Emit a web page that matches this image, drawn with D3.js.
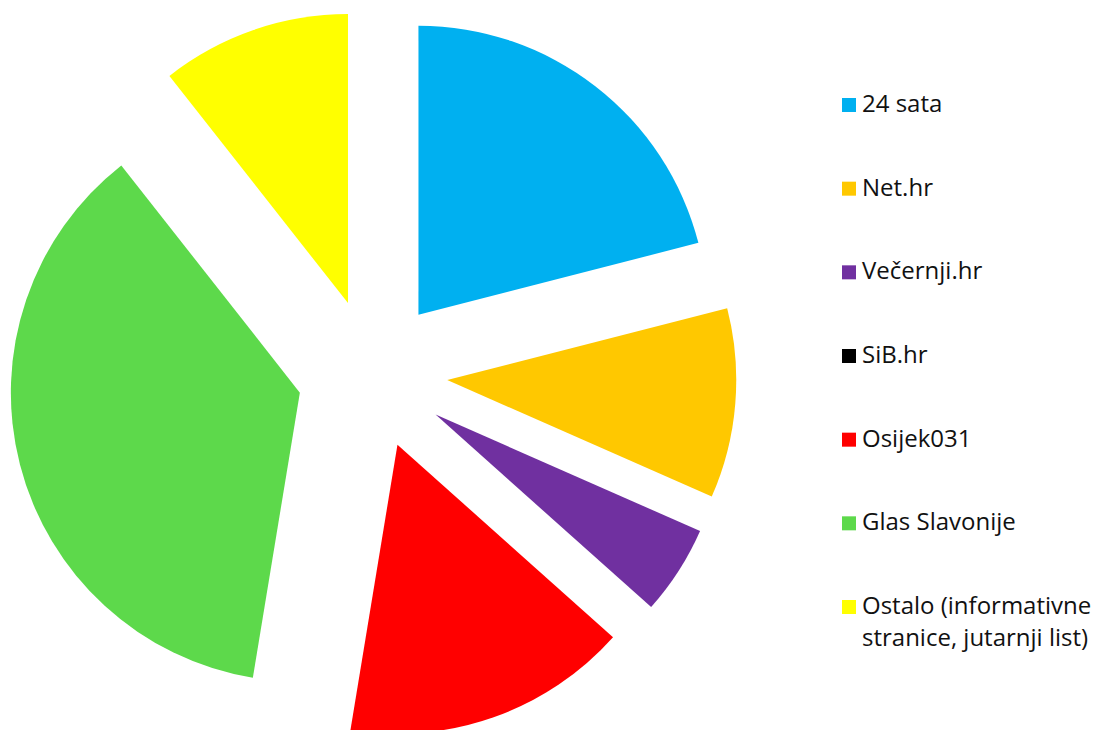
<!DOCTYPE html>
<html>
<head>
<meta charset="utf-8">
<script src="https://cdn.jsdelivr.net/npm/d3@7"></script>
<style>
  html, body { margin: 0; padding: 0; background: #fff; }
  svg { display: block; }
</style>
</head>
<body>
<svg id="chart" width="1095" height="730"></svg>
<script>
const categories = ["24 sata", "Net.hr", "Večernji.hr", "SiB.hr", "Osijek031", "Glas Slavonije", "Ostalo (informativne stranice, jutarnji list)"];
const values = [21.0, 10.6, 5.0, 0, 16.0, 36.8, 10.6];
const colors = ["#00B0F0", "#FFC800", "#7030A0", "#000000", "#FF0000", "#5DD94B", "#FFFF00"];
const legendLines = [["24 sata"], ["Net.hr"], ["Večernji.hr"], ["SiB.hr"], ["Osijek031"], ["Glas Slavonije"], ["Ostalo (informativne", "stranice, jutarnji list)"]];

const svg = d3.select("#chart");
const cx = 372.5, cy = 374, radius = 289, explode = 75;

const data = categories.map((c, i) => ({ name: c, value: values[i], color: colors[i] }));
const pie = d3.pie().sort(null).value(d => d.value);
const arc = d3.arc().innerRadius(0).outerRadius(radius);

const g = svg.append("g").attr("transform", `translate(${cx},${cy})`);
g.selectAll("path")
  .data(pie(data).filter(d => d.value > 0))
  .join("path")
  .attr("d", arc)
  .attr("fill", d => d.data.color)
  .attr("transform", d => {
    const mid = (d.startAngle + d.endAngle) / 2;
    return `translate(${Math.sin(mid) * explode},${-Math.cos(mid) * explode})`;
  });

const legendY = d3.scalePoint().domain(categories).range([112, 614]);
const lg = svg.append("g");
const items = lg.selectAll("g.item").data(data).join("g").attr("class", "item")
  .attr("transform", d => `translate(842,${legendY(d.name)})`);
items.append("rect").attr("x", 0).attr("y", -14).attr("width", 14).attr("height", 14)
  .attr("fill", d => d.color);
items.each(function(d, i) {
  const t = d3.select(this).append("text")
    .attr("x", 20).attr("y", 0)
    .attr("font-family", "'Open Sans', 'Liberation Sans', sans-serif")
    .attr("font-size", 24)
    .attr("fill", "#111");
  legendLines[i].forEach((line, j) => {
    t.append("tspan").attr("x", 20).attr("dy", j === 0 ? 0 : 32).text(line);
  });
});
</script>
</body>
</html>
